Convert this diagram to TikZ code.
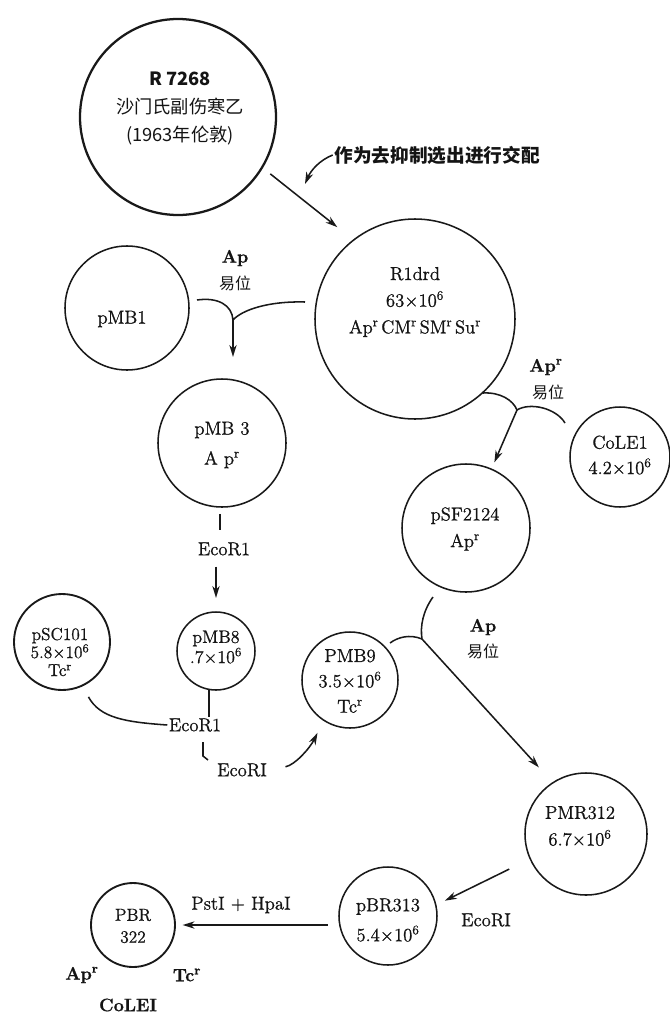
\documentclass[tikz,border=0pt]{standalone}
\usepackage{fontspec}
\newfontfamily\cjk{Noto Sans CJK SC}
\newfontfamily\rmh{Latin Modern Roman}[FakeBold=0.9]
\usetikzlibrary{arrows.meta}
\newcommand{\rs}{\textsuperscript{r}}

\begin{document}
\begin{tikzpicture}[x=0.75pt,y=-0.75pt,
  ink/.style={draw=black!90, line width=1.15pt},
  plasmid/.style={ink, circle, inner sep=0pt, minimum size=#1*1.5pt},
  lbl/.style={inner sep=1pt, align=center, text=black!92},
  big/.style={font=\rmh\fontsize{14}{#1}\selectfont},
  bold/.style={font=\rmh\bfseries\fontsize{13.5}{13.5}\selectfont},
  cjklbl/.style={font=\cjk\fontsize{12}{12}\selectfont},
  arr/.style={ink, -{Stealth[length=9pt,width=5.5pt]}},
  ]
\fill[white] (0,0) rectangle (670,1014);
\useasboundingbox (0,0) rectangle (670,1014);

% ---------- plasmid circles ----------
\node[plasmid=98, line width=1.7pt] (r7268) at (178,117) {};
\node[plasmid=100] (r1drd) at (415,319) {};
\node[plasmid=62] (pmb1) at (127,308) {};
\node[plasmid=64] (pmb3) at (222,443) {};
\node[plasmid=50] (cole1) at (620,457) {};
\node[plasmid=64] (psf) at (466,528) {};
\node[plasmid=48, line width=1.4pt] (psc) at (62,642) {};
\node[plasmid=39] (pmb8) at (216,651) {};
\node[plasmid=48] (pmb9) at (350,680) {};
\node[plasmid=61] (pmr) at (586,834) {};
\node[plasmid=49] (pbr313) at (388,916) {};
\node[plasmid=42, line width=1.4pt] (pbr322) at (133,925) {};

% ---------- texts inside the circles ----------
\node[lbl, font=\cjk\fontsize{13.7}{21}\selectfont] (r7268t) at (180,108)
  {{\bfseries R 7268}\\沙门氏副伤寒乙\\(1963年伦敦)};
\node[lbl, big=20] (r1drdt) at (415,302)
  {R1drd\\63×10\textsuperscript{6}\\Ap\rs\hspace{2pt}CM\rs\hspace{2pt}SM\rs\hspace{2pt}Su\rs};
\node[lbl, big=17] (pmb1t) at (122,319) {pMB1};
\node[lbl, big=22.5] (pmb3t) at (222,445) {pMB 3\\A p\rs};
\node[lbl, big=19] (cole1t) at (620,455) {CoLE1\\4.2×10\textsuperscript{6}};
\node[lbl, big=20] (psft) at (465,529) {pSF2124\\Ap\rs};
\node[lbl, font=\rmh\fontsize{13}{13.5}\selectfont] (psct) at (60,652)
  {pSC101\\5.8×10\textsuperscript{6}\\Tc\rs};
\node[lbl, font=\rmh\fontsize{13.5}{13}\selectfont] (pmb8t) at (216,647) {pMB8\\.7×10\textsuperscript{6}};
\node[lbl, big=19] (pmb9t) at (350,681) {PMB9\\3.5×10\textsuperscript{6}\\Tc\rs};
\node[lbl, big=20] (pmrt) at (580,826) {PMR312\\6.7×10\textsuperscript{6}};
\node[lbl, big=22.5] (pbr313t) at (388,920) {pBR313\\5.4×10\textsuperscript{6}};
\node[lbl, font=\rmh\fontsize{13}{16.5}\selectfont] (pbr322t) at (133,926) {PBR\\322};

% ---------- free labels ----------
\node[lbl, font=\cjk\bfseries\fontsize{14}{14}\selectfont] (note) at (437,155) {作为去抑制选出进行交配};
\node[lbl, bold] (ap1) at (235,258) {Ap};
\node[lbl, cjklbl] (yw1) at (235,283) {易位};
\node[lbl, bold] (ap2) at (546,367) {Ap\rs};
\node[lbl, cjklbl] (yw2) at (548,392) {易位};
\node[lbl, bold] (ap3) at (483,627) {Ap};
\node[lbl, cjklbl] (yw3) at (483,651) {易位};
\node[lbl, big=14] (ecoA) at (224,549) {EcoR1};
\node[lbl, big=14] (ecoB) at (195,725) {EcoR1};
\node[lbl, big=14] (ecoC) at (242,770) {EcoRI};
\node[lbl, big=14] (enz) at (241,905) {PstI + HpaI};
\node[lbl, big=14] (ecoD) at (486,920) {EcoRI};
\node[lbl, bold] (apr) at (82,975) {Ap\rs};
\node[lbl, bold] (tcr) at (187,975) {Tc\rs};
\node[lbl, bold] (colei) at (128,1005) {CoLEI};

% ---------- conjugation arrow ----------
\draw[arr, shorten <=7pt, shorten >=15pt] (r7268.-31) -- (r1drd.128);
\coordinate (tgt) at (305,184);
\draw[arr] (note.west) .. controls (320,160) and (311,170) .. (tgt);

% ---------- Ap transposition pMB1 / R1drd -> pMB3 ----------
\coordinate (j1) at (233,320);
\coordinate (j1a) at (197,300);
\coordinate (j1b) at (305,302);
\draw[ink] (j1a) .. controls (218,297) and (232,305) .. (j1)
           .. controls (242,310) and (268,301) .. (j1b);
\draw[arr, shorten >=16pt] (j1) -- (j1 |- pmb3.north);

% ---------- Ap transposition R1drd / ColE1 -> pSF2124 ----------
\coordinate (j2) at (517,410);
\coordinate (j2a) at (483,393);
\coordinate (j2b) at (565,423);
\draw[ink] (j2a) .. controls (500,392) and (513,400) .. (j2)
           .. controls (530,402) and (556,408) .. (j2b);
\draw[arr, shorten >=5pt] (j2) -- (psf);

% ---------- pMB3 -> pMB8 ----------
\draw[ink, shorten <=4.5pt, shorten >=8pt]
  ([xshift=-1.5pt]pmb3.south) -- ([xshift=-1.5pt]pmb3.south |- ecoA.north);
\draw[arr, shorten <=7pt, shorten >=10pt] (ecoA.south -| pmb8.north) -- (pmb8.north);

% ---------- pSC101 + pMB8 -> pMB9 ----------
\draw[ink] (pmb8.-100) -- (pmb8.-100 |- ecoB.north);
\draw[ink, shorten <=9pt] (psc.-65) .. controls (100,718) and (125,722) .. (ecoB.west);
\coordinate (hk) at (203,742);
\draw[ink] (hk) -- ++(0,14) -- ++(5,4);
\draw[arr, shorten <=13pt, shorten >=10pt] (ecoC.east) .. controls (295,765) and (310,748) .. (pmb9.237);

% ---------- Ap transposition pSF2124 / pMB9 -> pMR312 ----------
\coordinate (j3) at (422,639);
\coordinate (j3a) at (433,597);
\coordinate (j3b) at (390,643);
\draw[ink] (j3a) .. controls (423,611) and (420,626) .. (j3)
           .. controls (410,634) and (398,637) .. (j3b);
\draw[arr, shorten >=15pt] (j3) -- (pmr.123);

% ---------- pMR312 -> pBR313 -> pBR322 ----------
\draw[arr, shorten <=17pt, shorten >=7pt] (pmr.204) -- (pbr313.13);
\draw[arr, shorten <=8pt, shorten >=5pt] (pbr313.west |- pbr322.east) -- (pbr322.east);
\end{tikzpicture}
\end{document}
